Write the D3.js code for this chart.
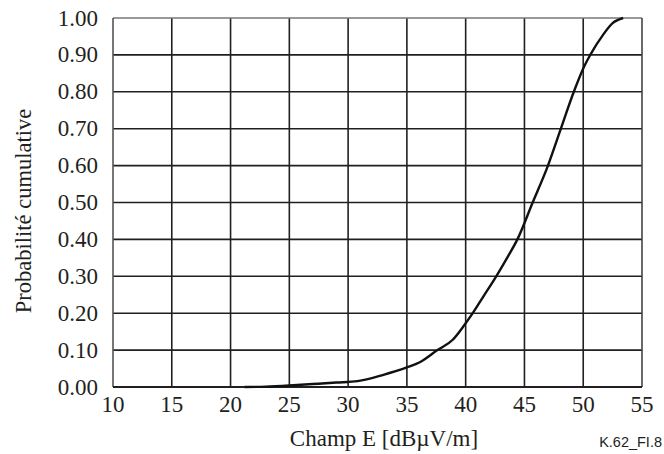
<!DOCTYPE html>
<html>
<head>
<meta charset="utf-8">
<script src="https://cdn.jsdelivr.net/npm/d3@7"></script>
<style>
  body { margin: 0; background: #fff; }
</style>
</head>
<body>
<div id="chart"></div>
<script>
const xTicks = [10, 15, 20, 25, 30, 35, 40, 45, 50, 55]
const yTicks = [0, 0.1, 0.2, 0.3, 0.4, 0.5, 0.6, 0.7, 0.8, 0.9, 1.0]

// champ E [dBµV/m] vs probabilité cumulative
const fieldE = [21.2, 23, 25, 27, 29, 30.8, 33, 35, 36.1, 37.6, 38.9, 39.8, 40.6, 41.5, 42.6, 43.6, 44.4, 45.7, 47.0, 48.1, 49.2, 50.1, 50.6, 51.7, 52.5, 53.4]
const cumProb = [0.0, 0.001, 0.004, 0.008, 0.012, 0.016, 0.033, 0.053, 0.067, 0.1, 0.128, 0.164, 0.2, 0.245, 0.3, 0.354, 0.4, 0.5, 0.6, 0.7, 0.8, 0.87, 0.9, 0.955, 0.986, 1.0]

const serif = "'Liberation Serif', 'Times New Roman', Times, serif"

const width = 664
const height = 454
const margin = { top: 18, right: 22, bottom: 67, left: 113 }
const innerW = width - margin.left - margin.right
const innerH = height - margin.top - margin.bottom

const svg = d3.select("#chart")
  .append("svg")
  .attr("width", width)
  .attr("height", height)

const g = svg.append("g")
  .attr("transform", `translate(${margin.left},${margin.top})`)

const x = d3.scaleLinear().domain([10, 55]).range([0, innerW])
const y = d3.scaleLinear().domain([0, 1]).range([innerH, 0])

// grid
g.append("g")
  .selectAll("line")
  .data(xTicks.slice(1, -1))
  .join("line")
  .attr("x1", (d) => x(d)).attr("x2", (d) => x(d))
  .attr("y1", 0).attr("y2", innerH)
  .attr("stroke", "#231f20").attr("stroke-width", 1.6)

g.append("g")
  .selectAll("line")
  .data(yTicks.slice(1, -1))
  .join("line")
  .attr("x1", 0).attr("x2", innerW)
  .attr("y1", (d) => y(d)).attr("y2", (d) => y(d))
  .attr("stroke", "#231f20").attr("stroke-width", 1.6)

// frame
g.append("line").attr("x1", 0).attr("x2", innerW).attr("y1", 0).attr("y2", 0)
  .attr("stroke", "#777").attr("stroke-width", 1.6)
g.append("line").attr("x1", 0).attr("x2", 0).attr("y1", 0).attr("y2", innerH)
  .attr("stroke", "#555").attr("stroke-width", 1.6)
g.append("line").attr("x1", innerW).attr("x2", innerW).attr("y1", 0).attr("y2", innerH)
  .attr("stroke", "#444").attr("stroke-width", 1.6)
g.append("line").attr("x1", 0).attr("x2", innerW).attr("y1", innerH).attr("y2", innerH)
  .attr("stroke", "#231f20").attr("stroke-width", 1.8)

// tick labels
g.append("g")
  .selectAll("text")
  .data(yTicks)
  .join("text")
  .attr("x", -15)
  .attr("y", (d) => y(d))
  .attr("dy", "0.33em")
  .attr("text-anchor", "end")
  .attr("font-family", serif)
  .attr("font-size", 23)
  .attr("fill", "#231f20")
  .text((d) => d3.format(".2f")(d))

g.append("g")
  .selectAll("text")
  .data(xTicks)
  .join("text")
  .attr("x", (d) => x(d))
  .attr("y", innerH + 25)
  .attr("text-anchor", "middle")
  .attr("font-family", serif)
  .attr("font-size", 23)
  .attr("fill", "#231f20")
  .text((d) => d)

// curve
const pts = fieldE.map((v, i) => [v, cumProb[i]])
g.append("path")
  .datum(pts)
  .attr("fill", "none")
  .attr("stroke", "#111")
  .attr("stroke-width", 2.4)
  .attr("d", d3.line().x((d) => x(d[0])).y((d) => y(d[1])).curve(d3.curveMonotoneX))

// axis titles
svg.append("text")
  .attr("x", 384)
  .attr("y", 446)
  .attr("text-anchor", "middle")
  .attr("font-family", serif)
  .attr("font-size", 23)
  .attr("fill", "#231f20")
  .text("Champ E [dBµV/m]")

svg.append("text")
  .attr("transform", `translate(31,${211}) rotate(-90)`)
  .attr("text-anchor", "middle")
  .attr("font-family", serif)
  .attr("font-size", 22.5)
  .attr("fill", "#231f20")
  .text("Probabilité cumulative")

svg.append("text")
  .attr("x", 662)
  .attr("y", 447)
  .attr("text-anchor", "end")
  .attr("font-family", "'Liberation Sans', Arial, sans-serif")
  .attr("font-size", 14.5)
  .attr("fill", "#231f20")
  .text("K.62_FI.8")
</script>
</body>
</html>
